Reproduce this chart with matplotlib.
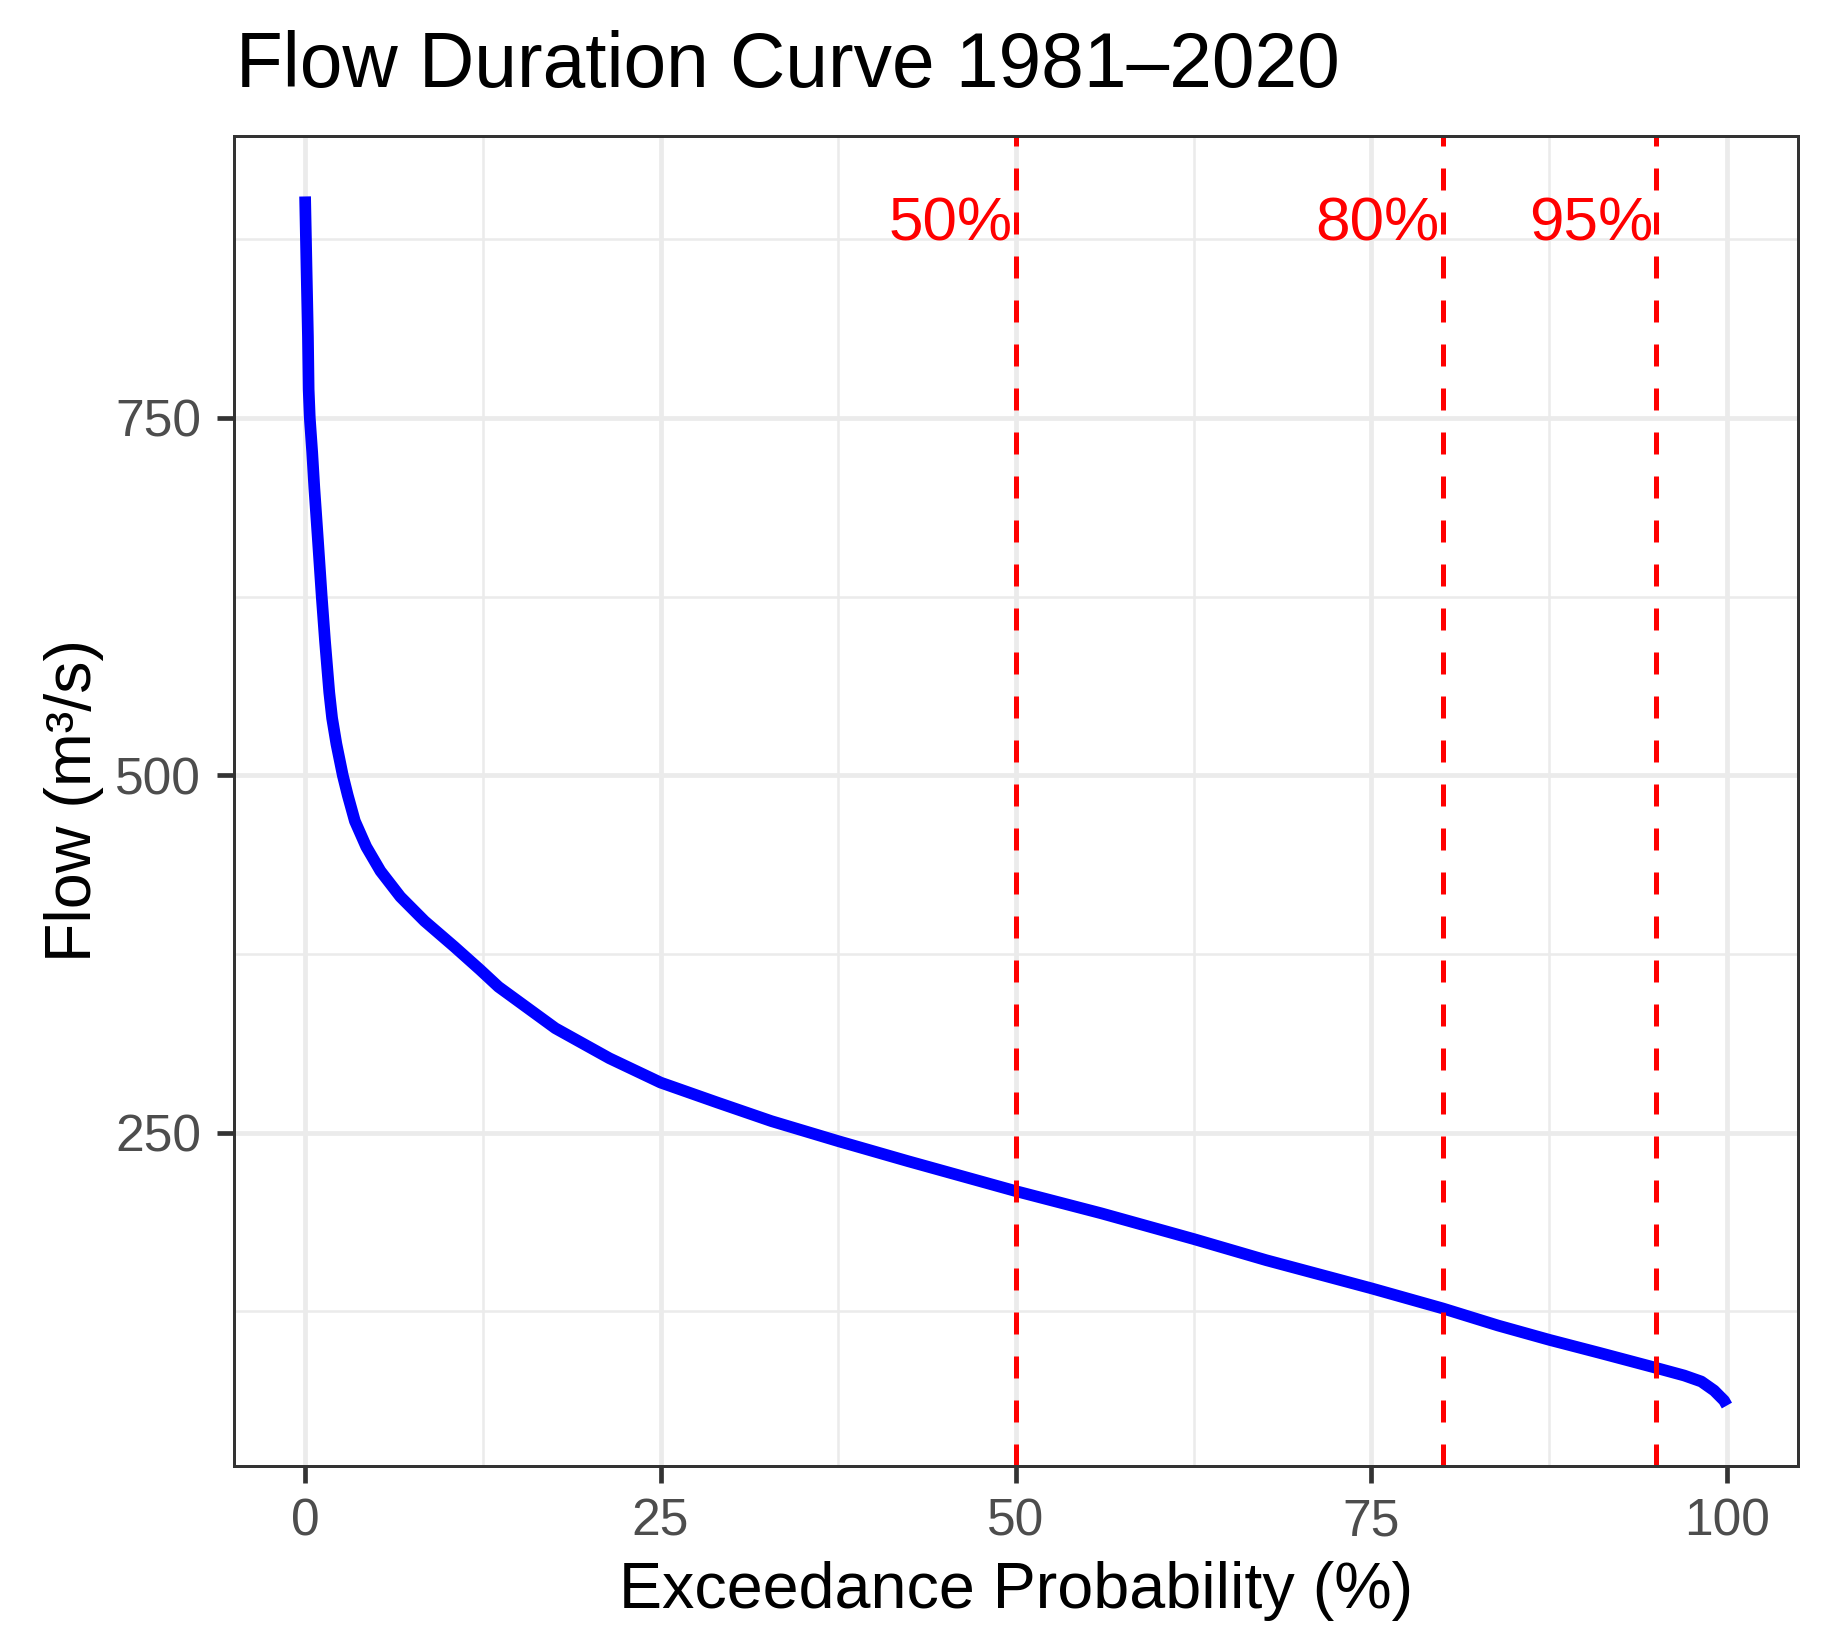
"""Flow duration curve 1981-2020, redrawn with matplotlib in a ggplot theme_bw look."""
import matplotlib
matplotlib.use("Agg")
import matplotlib.pyplot as plt

# exceedance probability (%) and flow (m3/s)
exceedance = [0.0, 0.1, 0.2, 0.25, 0.33, 0.5, 0.65, 0.9, 1.17, 1.4, 1.7, 1.9,
              2.2, 2.65, 3.0, 3.5, 4.3, 5.3, 6.7, 8.4, 10.5, 12.3, 13.6, 17.6,
              21.4, 25.0, 29.0, 32.8, 37.5, 42.4, 50.0, 56.0, 62.5, 67.6, 75.0,
              80.0, 83.9, 87.5, 91.1, 95.0, 97.0, 98.2, 99.1, 99.8, 100.0]
flow = [905, 855, 807, 770, 750, 726, 701, 665, 625, 594, 558, 540,
        522, 500, 486, 468, 450, 433, 415, 398, 380, 364, 352, 323,
        302, 285, 271, 258, 244, 230, 209, 193.5, 175.5, 160.7, 141,
        127, 115, 105, 95.7, 85.4, 80, 75.8, 69.5, 62.5, 59]

# reference exceedance levels marked with dashed lines
ref_levels = [50, 80, 95]
ref_labels = ["50%", "80%", "95%"]

x_major = [0, 25, 50, 75, 100]
x_minor = [12.5, 37.5, 62.5, 87.5]
y_major = [250, 500, 750]
y_minor = [125, 375, 625, 875]

W, H, DPI = 1833, 1648, 300
PX = 72 / DPI  # one pixel in points

plt.rcParams["font.family"] = ["Liberation Sans", "DejaVu Sans"]

fig = plt.figure(figsize=(W / DPI, H / DPI), dpi=DPI)
ax = fig.add_axes([234 / W, 1 - 1466 / H, (1798 - 234) / W, (1466 - 136) / H])

# expand ranges 5% like ggplot
x_lo, x_hi = min(exceedance), max(exceedance)
y_lo, y_hi = min(flow), max(flow)
xpad = 0.05 * (x_hi - x_lo)
ypad = 0.05 * (y_hi - y_lo)
ax.set_xlim(x_lo - xpad, x_hi + xpad)
ax.set_ylim(y_lo - ypad, y_hi + ypad)

# grid
grid_col = "#EBEBEB"
for v in x_major:
    ax.axvline(v, color=grid_col, lw=4.7 * PX, zorder=0)
for v in x_minor:
    ax.axvline(v, color=grid_col, lw=2.5 * PX, zorder=0)
for v in y_major:
    ax.axhline(v, color=grid_col, lw=4.7 * PX, zorder=0)
for v in y_minor:
    ax.axhline(v, color=grid_col, lw=2.5 * PX, zorder=0)

# curve
ax.plot(exceedance, flow, color="#0000FF", lw=11.7 * PX,
        solid_joinstyle="round", solid_capstyle="butt", zorder=3)

# reference lines + labels
vlw = 5 * PX
dash = 22 * PX / vlw
for lvl, lab in zip(ref_levels, ref_labels):
    ax.axvline(lvl, color="#FF0000", lw=vlw, linestyle=(0, (dash, dash)),
               dash_capstyle="butt", zorder=4)
    ax.text(lvl - 0.2, y_hi, lab, color="#FF0000", fontsize=14.9,
            ha="right", va="top", zorder=5)

# axes styling
ax.set_xticks(x_major)
ax.set_yticks(y_major)
ax.tick_params(axis="both", which="major", length=17 * PX, width=4.7 * PX,
               color="#333333", labelcolor="#4D4D4D", labelsize=12.4)
ax.tick_params(axis="y", pad=16 * PX)
ax.tick_params(axis="x", pad=14 * PX)
for s in ax.spines.values():
    s.set_color("#333333")
    s.set_linewidth(3 * PX)
    s.set_zorder(6)

fig.text(236 / W, 1 - 87 / H, "Flow Duration Curve 1981\u20132020",
         fontsize=18.4, ha="left", va="baseline", color="black")
fig.text((234 + 1798) / 2 / W, 1 - 1608 / H, "Exceedance Probability (%)",
         fontsize=15.5, ha="center", va="baseline", color="black")
fig.text(91 / W, 1 - 801 / H, "Flow (m\u00b3/s)", fontsize=15.5, rotation=90,
         rotation_mode="anchor", ha="center", va="baseline", color="black")

fig.savefig("out.png", dpi=DPI, facecolor="white")
